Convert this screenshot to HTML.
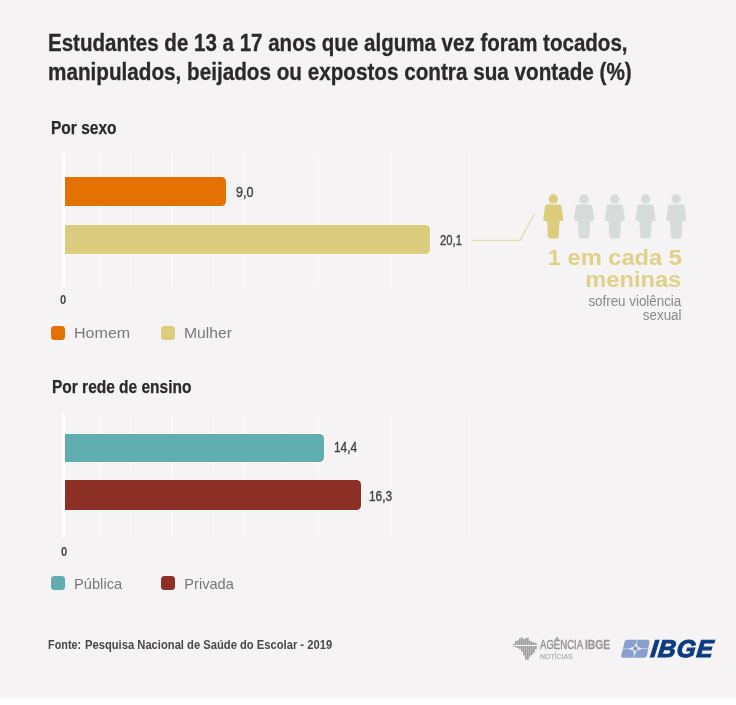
<!DOCTYPE html>
<html><head><meta charset="utf-8">
<style>
html,body{margin:0;padding:0;}
body{width:736px;height:705px;position:relative;overflow:hidden;background:#ffffff;font-family:"Liberation Sans",sans-serif;}
#bg{position:absolute;left:0;top:0;width:736px;height:705px;background:linear-gradient(to bottom,#f5f3f4 0px,#f5f3f4 696px,#ffffff 700.5px,#ffffff 705px);}
.t{position:absolute;white-space:nowrap;transform-origin:0 0;line-height:1;}
.r{transform-origin:100% 0;}
.title{font-weight:bold;font-size:23.5px;color:#2b292a;-webkit-text-stroke:0.3px #2b292a;}
.sub{font-weight:bold;font-size:18px;color:#2b292a;-webkit-text-stroke:0.25px #2b292a;}
.val{font-size:15.2px;color:#454344;-webkit-text-stroke:0.4px #454344;}
.zero{font-weight:bold;font-size:12.5px;color:#454344;}
.leg{font-size:14.6px;color:#79777a;}
.bar{position:absolute;border-radius:0 4.5px 4.5px 0;box-shadow:0 0 0 1px rgba(255,255,255,0.5);}
.sw{position:absolute;width:14px;height:14px;border-radius:3.5px;}
.grid{position:absolute;width:1.5px;background:#f9f8f9;}
.axis{position:absolute;width:3px;background:#ffffff;}
svg{position:absolute;left:0;top:0;}
</style></head><body>
<div id="bg"></div>
<div id="all" style="position:absolute;left:0;top:0;width:736px;height:705px;filter:blur(0.4px);">

<div class="t title" id="t1" style="left:47.5px;top:32px;transform:scaleX(0.8735);">Estudantes de 13 a 17 anos que alguma vez foram tocados,</div>
<div class="t title" id="t2" style="left:47.5px;top:61px;transform:scaleX(0.8800);">manipulados, beijados ou expostos contra sua vontade (%)</div>

<div class="t sub" id="s1" style="left:51.0px;top:119.3px;transform:scaleX(0.862);">Por sexo</div>

<div class="grid" style="left:98.00px;top:153px;height:133.5px;"></div><div class="grid" style="left:134.55px;top:153px;height:133.5px;"></div><div class="grid" style="left:171.10px;top:153px;height:133.5px;"></div><div class="grid" style="left:207.65px;top:153px;height:133.5px;"></div><div class="grid" style="left:244.20px;top:153px;height:133.5px;"></div><div class="grid" style="left:280.75px;top:153px;height:133.5px;"></div><div class="grid" style="left:317.30px;top:153px;height:133.5px;"></div><div class="grid" style="left:353.85px;top:153px;height:133.5px;"></div><div class="grid" style="left:390.40px;top:153px;height:133.5px;"></div><div class="grid" style="left:426.95px;top:153px;height:133.5px;"></div><div class="grid" style="left:463.50px;top:153px;height:133.5px;"></div>
<div class="axis" style="left:61.5px;top:153px;height:134px;"></div>
<div class="bar" style="left:64.5px;top:177px;width:161px;height:28.5px;background:#e47203;"></div>
<div class="bar" style="left:64.5px;top:224.5px;width:365px;height:29.5px;background:#dbcd7d;"></div>
<div class="t val" id="v1" style="left:235.6px;top:184.2px;transform:scaleX(0.825);">9,0</div>
<div class="t val" id="v2" style="left:439.9px;top:232.4px;transform:scaleX(0.741);">20,1</div>
<div class="t zero" id="z1" style="left:60px;top:293.5px;transform:scaleX(0.9);">0</div>

<div class="sw" style="left:51px;top:325.5px;background:#e47203;"></div>
<div class="t leg" id="l1" style="left:74.3px;top:325.5px;transform:scaleX(1.10);">Homem</div>
<div class="sw" style="left:160.5px;top:325.5px;background:#dbcd7d;"></div>
<div class="t leg" id="l2" style="left:184.2px;top:325.5px;transform:scaleX(1.075);">Mulher</div>

<svg width="736" height="705" viewBox="0 0 736 705">
<path d="M472,240.4 L520,240.4 L534.3,214" fill="none" stroke="#e5ddae" stroke-width="1.4"/>
<circle cx="553.30" cy="198.9" r="4.6" fill="#dccd7d"/><path d="M547.30,204.4 Q545.40,204.4 545.10,206.2 L543.30,218.8 Q543.00,220.9 544.90,220.9 L547.00,220.9 L548.00,236.6 Q548.10,238.4 549.70,238.4 L556.90,238.4 Q558.50,238.4 558.60,236.6 L559.60,220.9 L561.70,220.9 Q563.60,220.9 563.30,218.8 L561.50,206.2 Q561.20,204.4 559.30,204.4 Z" fill="#dccd7d"/><circle cx="584.05" cy="198.9" r="4.6" fill="#d5dcd9"/><path d="M578.05,204.4 Q576.15,204.4 575.85,206.2 L574.05,218.8 Q573.75,220.9 575.65,220.9 L577.75,220.9 L578.75,236.6 Q578.85,238.4 580.45,238.4 L587.65,238.4 Q589.25,238.4 589.35,236.6 L590.35,220.9 L592.45,220.9 Q594.35,220.9 594.05,218.8 L592.25,206.2 Q591.95,204.4 590.05,204.4 Z" fill="#d5dcd9"/><circle cx="614.80" cy="198.9" r="4.6" fill="#d5dcd9"/><path d="M608.80,204.4 Q606.90,204.4 606.60,206.2 L604.80,218.8 Q604.50,220.9 606.40,220.9 L608.50,220.9 L609.50,236.6 Q609.60,238.4 611.20,238.4 L618.40,238.4 Q620.00,238.4 620.10,236.6 L621.10,220.9 L623.20,220.9 Q625.10,220.9 624.80,218.8 L623.00,206.2 Q622.70,204.4 620.80,204.4 Z" fill="#d5dcd9"/><circle cx="645.55" cy="198.9" r="4.6" fill="#d5dcd9"/><path d="M639.55,204.4 Q637.65,204.4 637.35,206.2 L635.55,218.8 Q635.25,220.9 637.15,220.9 L639.25,220.9 L640.25,236.6 Q640.35,238.4 641.95,238.4 L649.15,238.4 Q650.75,238.4 650.85,236.6 L651.85,220.9 L653.95,220.9 Q655.85,220.9 655.55,218.8 L653.75,206.2 Q653.45,204.4 651.55,204.4 Z" fill="#d5dcd9"/><circle cx="676.30" cy="198.9" r="4.6" fill="#d5dcd9"/><path d="M670.30,204.4 Q668.40,204.4 668.10,206.2 L666.30,218.8 Q666.00,220.9 667.90,220.9 L670.00,220.9 L671.00,236.6 Q671.10,238.4 672.70,238.4 L679.90,238.4 Q681.50,238.4 681.60,236.6 L682.60,220.9 L684.70,220.9 Q686.60,220.9 686.30,218.8 L684.50,206.2 Q684.20,204.4 682.30,204.4 Z" fill="#d5dcd9"/>
</svg>

<div class="t r" id="b1" style="right:54.5px;top:248px;font-weight:bold;font-size:21.5px;color:#dfd187;transform:scaleX(1.1);">1 em cada 5</div>
<div class="t r" id="b2" style="right:54.5px;top:270px;font-weight:bold;font-size:21.5px;color:#dfd187;transform:scaleX(1.1);">meninas</div>
<div class="t r" id="b3" style="right:54.5px;top:294px;font-size:14px;color:#8a888b;transform:scaleX(0.955);">sofreu violência</div>
<div class="t r" id="b4" style="right:54.5px;top:308.2px;font-size:14px;color:#8a888b;transform:scaleX(0.955);">sexual</div>

<div class="t sub" id="s2" style="left:51.6px;top:378.3px;transform:scaleX(0.860);">Por rede de ensino</div>

<div class="grid" style="left:98.00px;top:412.5px;height:126px;"></div><div class="grid" style="left:134.55px;top:412.5px;height:126px;"></div><div class="grid" style="left:171.10px;top:412.5px;height:126px;"></div><div class="grid" style="left:207.65px;top:412.5px;height:126px;"></div><div class="grid" style="left:244.20px;top:412.5px;height:126px;"></div><div class="grid" style="left:280.75px;top:412.5px;height:126px;"></div><div class="grid" style="left:317.30px;top:412.5px;height:126px;"></div><div class="grid" style="left:353.85px;top:412.5px;height:126px;"></div><div class="grid" style="left:390.40px;top:412.5px;height:126px;"></div><div class="grid" style="left:426.95px;top:412.5px;height:126px;"></div><div class="grid" style="left:463.50px;top:412.5px;height:126px;"></div>
<div class="axis" style="left:61.5px;top:412.5px;height:125.5px;"></div>
<div class="bar" style="left:64.5px;top:433.5px;width:259px;height:28.5px;background:#5fadae;"></div>
<div class="bar" style="left:64.5px;top:480.3px;width:296px;height:30px;background:#8c2f25;"></div>
<div class="t val" id="v3" style="left:334px;top:439.2px;transform:scaleX(0.78);">14,4</div>
<div class="t val" id="v4" style="left:369px;top:488.4px;transform:scaleX(0.78);">16,3</div>
<div class="t zero" id="z2" style="left:60.5px;top:545.5px;transform:scaleX(0.9);">0</div>

<div class="sw" style="left:51px;top:576px;background:#5fadae;"></div>
<div class="t leg" id="l3" style="left:74.3px;top:576.7px;transform:scaleX(1.006);">Pública</div>
<div class="sw" style="left:160.5px;top:576px;background:#8c2f25;"></div>
<div class="t leg" id="l4" style="left:184.3px;top:576.7px;transform:scaleX(1.0);">Privada</div>

<div class="t" id="src" style="left:47.5px;top:638.5px;font-weight:bold;font-size:12.5px;color:#4a4849;transform:scaleX(0.87);">Fonte:</div>
<div class="t" id="src2" style="left:85.2px;top:638.5px;font-weight:bold;font-size:12.5px;color:#4a4849;transform:scaleX(0.896);">Pesquisa Nacional de Saúde do Escolar - 2019</div>

<svg width="736" height="705" viewBox="0 0 736 705">
<g fill="#a09e9f"><rect x="513.0" y="644.0" width="1.7" height="1.0"/><rect x="513.0" y="646.0" width="1.7" height="0.8"/><rect x="515.0" y="641.0" width="1.7" height="4.0"/><rect x="515.0" y="646.0" width="1.7" height="1.4"/><rect x="517.0" y="640.3" width="1.7" height="4.7"/><rect x="517.0" y="646.0" width="1.7" height="2.1"/><rect x="519.0" y="638.2" width="1.7" height="6.8"/><rect x="519.0" y="646.0" width="1.7" height="3.2"/><rect x="521.0" y="637.4" width="1.7" height="7.6"/><rect x="521.0" y="646.0" width="1.7" height="5.6"/><rect x="523.0" y="639.0" width="1.7" height="6.0"/><rect x="523.0" y="646.0" width="1.7" height="9.5"/><rect x="525.0" y="638.2" width="1.7" height="6.8"/><rect x="525.0" y="646.0" width="1.7" height="13.6"/><rect x="527.0" y="637.7" width="1.7" height="7.3"/><rect x="527.0" y="646.0" width="1.7" height="14.0"/><rect x="529.0" y="640.8" width="1.7" height="4.2"/><rect x="529.0" y="646.0" width="1.7" height="10.6"/><rect x="531.0" y="641.7" width="1.7" height="3.3"/><rect x="531.0" y="646.0" width="1.7" height="9.0"/><rect x="533.0" y="642.4" width="1.7" height="2.6"/><rect x="533.0" y="646.0" width="1.7" height="7.0"/><rect x="535.0" y="643.1" width="1.7" height="1.9"/><rect x="535.0" y="646.0" width="1.7" height="3.3"/></g>
<g>
<path d="M627.6,639.7 L647.2,639.7 Q649.8,639.7 649.4,642 L647.0,655.6 Q646.6,657.7 644.2,657.7 L623.2,657.7 Q620.7,657.7 621.2,655.4 L624.6,641.8 Q625.1,639.7 627.6,639.7 Z" fill="#8a9fce"/>
<path d="M637.2,639.7 L633.6,657.7 M622.6,648.7 L648.2,648.7" stroke="#c9d3ea" stroke-width="0.9" fill="none"/>
<path d="M636.6,642.4 L637.6,646.6 L642.2,648.7 L636.8,650.8 L634.2,655.8 L633.4,650.8 L628.4,648.7 L634.0,646.6 Z" fill="#e6ebf6"/>
<circle cx="635.4" cy="648.7" r="2.1" fill="#8294c6"/>
</g>
</svg>
<div class="t" id="ag1" style="left:539.6px;top:638.2px;font-size:13.7px;color:#989697;-webkit-text-stroke:0.5px #989697;transform:scaleX(0.70);">AGÊNCIA</div>
<div class="t" id="ag2" style="left:584.6px;top:638.2px;font-size:13.7px;font-weight:bold;color:#9b999a;-webkit-text-stroke:0.3px #9b999a;transform:scaleX(0.752);">IBGE</div>
<div class="t" id="ag3" style="left:539.8px;top:653.4px;font-size:7.4px;color:#b3b1b2;-webkit-text-stroke:0.25px #b3b1b2;transform:scaleX(0.937);">NOTÍCIAS</div>
<div class="t" id="ib" style="left:651.6px;top:636.5px;font-size:24.4px;font-weight:bold;font-style:italic;color:#0c3b80;-webkit-text-stroke:1.1px #0c3b80;letter-spacing:0.9px;transform:scaleX(1.0) skewX(-6deg);">IBGE</div>

</div>
</body></html>
